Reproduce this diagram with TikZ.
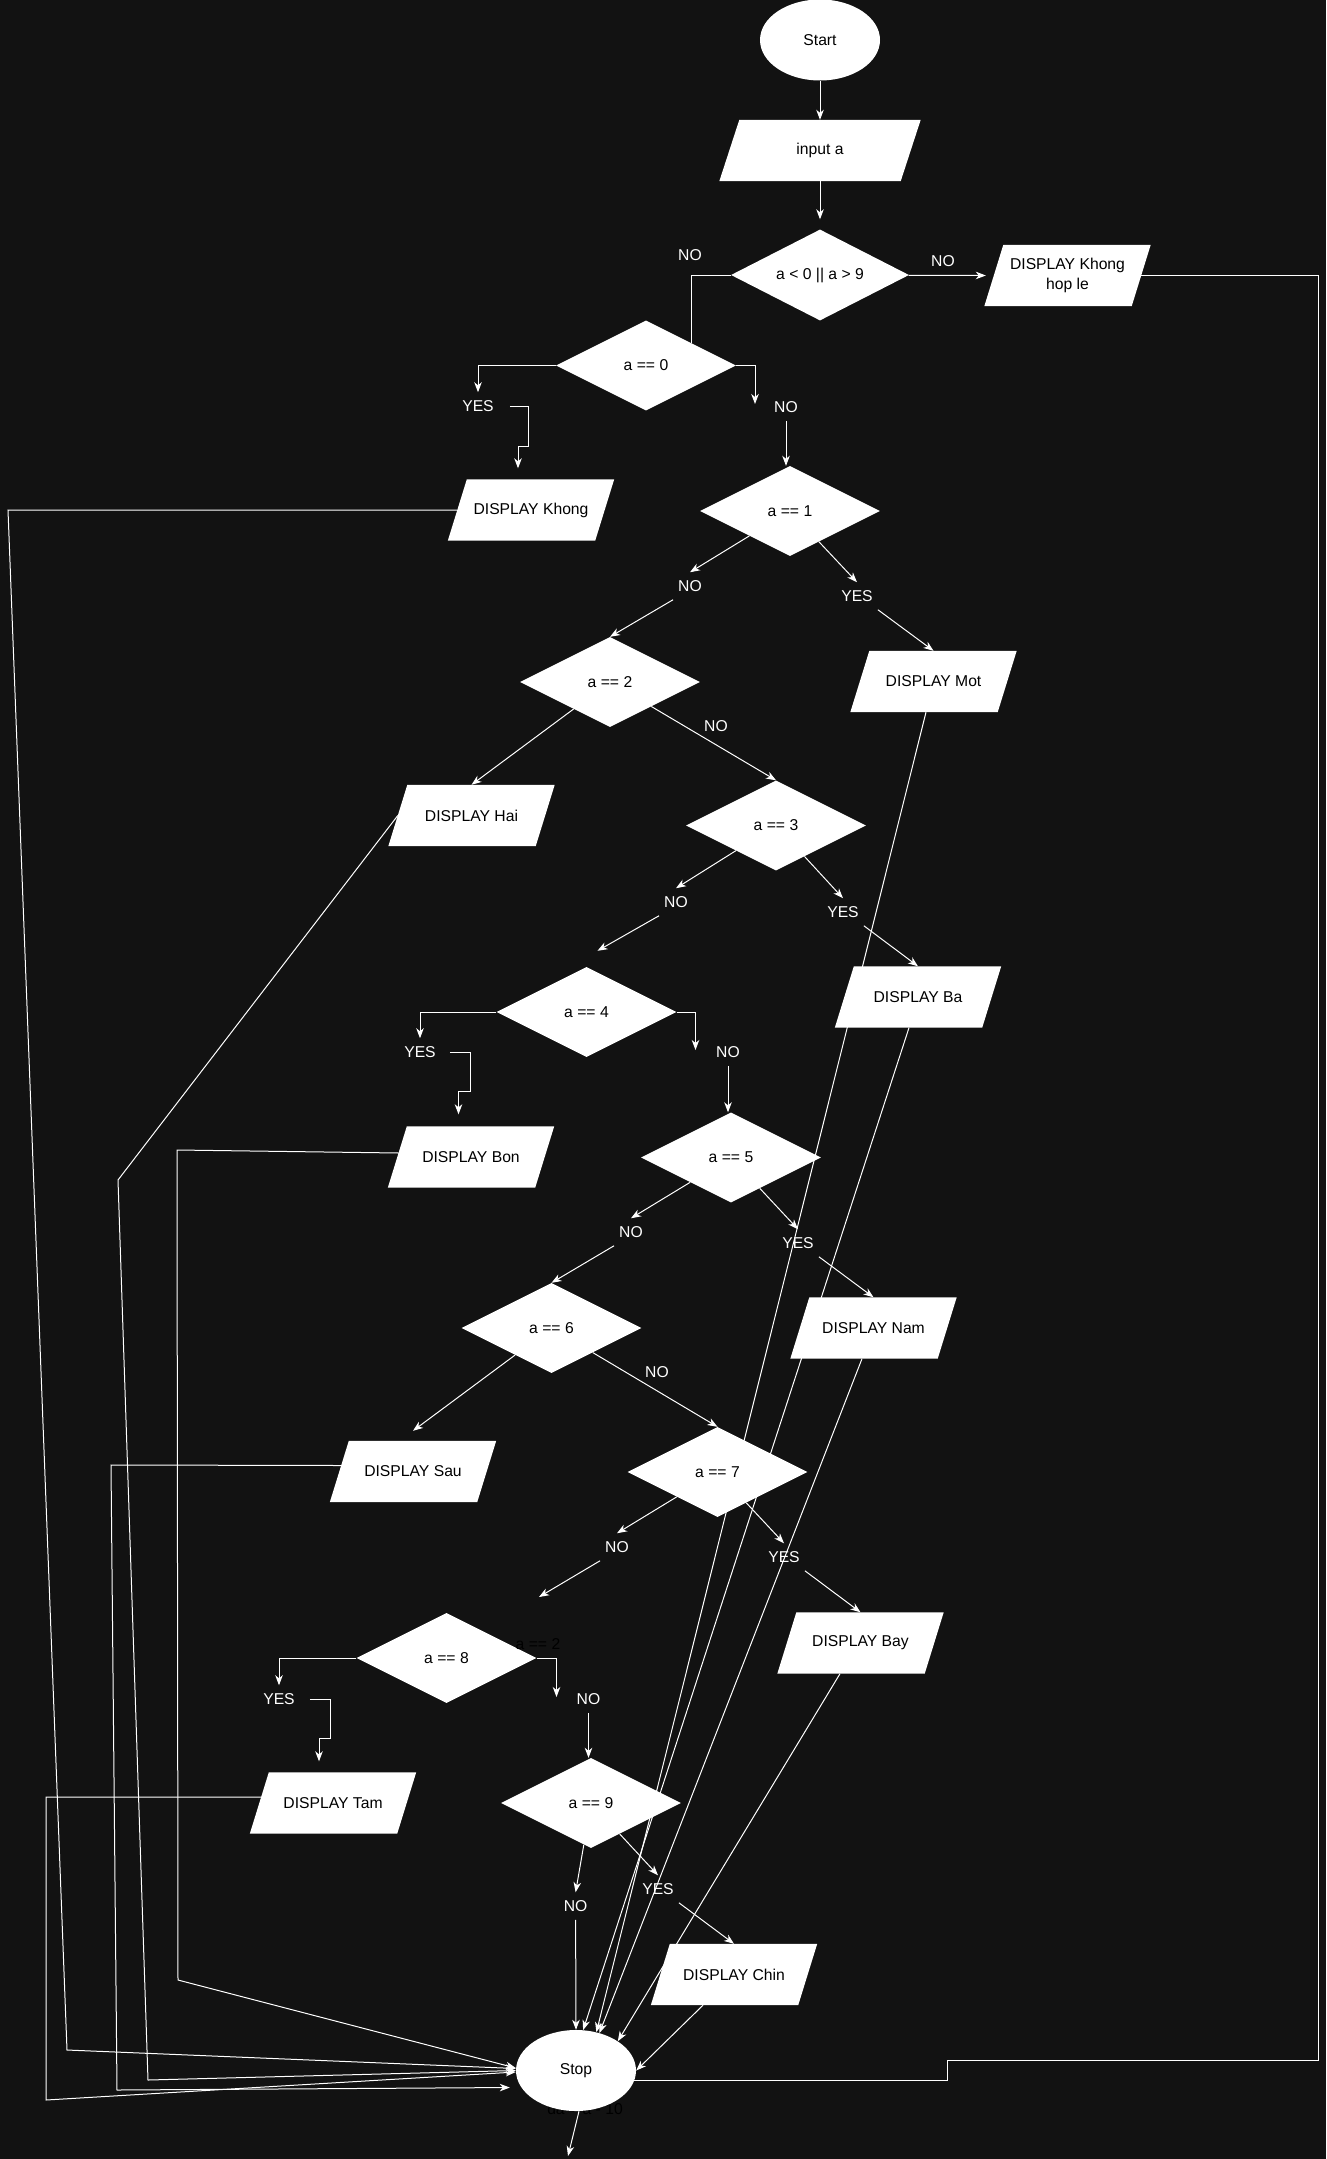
\documentclass[tikz,border=0pt]{standalone}
\usepackage{fontspec}
\setmainfont{Liberation Sans}
\usetikzlibrary{shapes.geometric,arrows.meta}
\definecolor{bgc}{HTML}{121212}
\pgfdeclarelayer{bg}\pgfdeclarelayer{edges}\pgfdeclarelayer{shapes}
\pgfsetlayers{bg,edges,shapes,main}
\begin{document}
\begin{tikzpicture}[x=1pt,y=-1pt,
  every node/.style={font=\fontsize{15.7}{20}\selectfont},
  term/.style={ellipse, fill=white, text=black, minimum width=120pt, minimum height=81pt, inner sep=0pt},
  dec/.style={diamond, fill=white, text=black, minimum width=180pt, minimum height=90pt, inner sep=0pt, aspect=2},
  io/.style={rectangle, text=black, minimum width=147pt, minimum height=61pt, inner sep=0pt, align=center},
  lbl/.style={text=white, inner xsep=5pt, inner ysep=8pt},
  hid/.style={text=black, inner sep=0pt},
  conn/.style={draw=white, line width=1pt},
  arr/.style={conn, -{Stealth[length=10pt,width=7.5pt,inset=3pt]}}
]
\useasboundingbox (0,0) rectangle (1326,2159);
\begin{pgfonlayer}{bg}
\fill[bgc] (0,0) rectangle (1326,2159);
\end{pgfonlayer}

% main nodes
\node[term] (start) at (820,40) {Start};
\node[io, minimum width=181pt] (inp) at (820,150.5) {input a};
\node[dec, minimum width=178pt, minimum height=91pt] (dq) at (820,275) {a < 0 || a > 9};
\node[io] (khl) at (1067.5,275.5) {DISPLAY Khong\\hop le};
\node[dec] (d0) at (646,365.5) {a == 0};
\node[io] (khong) at (531,510) {DISPLAY Khong};
\node[dec] (d1) at (790,511) {a == 1};
\node[io] (mot) at (933.5,681.5) {DISPLAY Mot};
\node[dec] (d2) at (610,682) {a == 2};
\node[io] (hai) at (471.5,815.5) {DISPLAY Hai};
\node[dec] (d3) at (776,825.5) {a == 3};
\node[io] (ba) at (918,997) {DISPLAY Ba};
\node[dec] (d4) at (586.5,1012) {a == 4};
\node[io] (bon) at (471,1157) {DISPLAY Bon};
\node[dec] (d5) at (731,1157.5) {a == 5};
\node[io] (nam) at (873.5,1328) {DISPLAY Nam};
\node[dec] (d6) at (551.5,1328) {a == 6};
\node[io] (sau) at (413,1471.5) {DISPLAY Sau};
\node[dec] (d7) at (717.5,1472) {a == 7};
\node[io] (bay) at (860.5,1643) {DISPLAY Bay};
\node[dec] (d8) at (446.5,1658) {a == 8};
\node[io] (tam) at (333,1803) {DISPLAY Tam};
\node[dec] (d9) at (591,1803) {a == 9};
\node[io] (chin) at (734,1974.5) {DISPLAY Chin};
\node[term] (stop) at (576,2070.5) {Stop};

% labels
\node[lbl] (nq1) at (943,261) {NO};
\node[lbl] (nq0) at (690,255) {NO};
\node[lbl] (yes0) at (478,406) {YES};
\node[lbl] (no0) at (786,407) {NO};
\node[lbl] (no1) at (690,586) {NO};
\node[lbl] (yes1) at (857,596) {YES};
\node[lbl] (no2) at (716,726) {NO};
\node[lbl] (no3) at (676,902) {NO};
\node[lbl] (yes3) at (843,912) {YES};
\node[lbl] (yes4) at (420,1052) {YES};
\node[lbl] (no4) at (728,1052) {NO};
\node[lbl] (no5) at (631,1232) {NO};
\node[lbl] (yes5) at (798,1243) {YES};
\node[lbl] (no6) at (657,1372) {NO};
\node[lbl] (no7) at (617,1547) {NO};
\node[lbl] (yes7) at (784,1557) {YES};
\node[lbl] (yes8) at (279,1699) {YES};
\node[lbl] (no8) at (588.5,1699) {NO};
\node[lbl] (no9) at (575.6,1906) {NO};
\node[lbl] (yes9) at (658,1889) {YES};
\node[hid] (hidA) at (538,1644) {a == 2};

% free ends and bends
\coordinate (t0) at (755,404);
\coordinate (t4) at (695.5,1050);
\coordinate (t8) at (556.5,1697);
\coordinate (t7) at (539,1597);
\coordinate (tout) at (568,2156);
\coordinate (r1) at (1318,2060);
\coordinate (r2) at (947,2080);
\coordinate (k1) at (8,510);   \coordinate (k2) at (67,2050);
\coordinate (ha) at (118,1180); \coordinate (hb) at (148,2080);
\coordinate (b1) at (177,1150); \coordinate (b2) at (178,1980);
\coordinate (s1) at (111,1465); \coordinate (s2) at (117,2090);
\coordinate (m1) at (46,1797);  \coordinate (m2) at (46,2100);
\coordinate (y0a) at (528,446); \coordinate (y4a) at (470,1091); \coordinate (y8a) at (330,1738);

\begin{pgfonlayer}{edges}
\draw[arr] (start) -- (inp);
\draw[arr] (inp) -- ([yshift=10pt]dq.north);
\draw[arr] (dq) -- ([xshift=-8pt]khl.west);
\draw[conn] (dq.west) -| (d0.north east);
\draw[conn] (khl.east) -| (r1) -| (r2) -- (stop.center |- r2);
\draw[arr] (d0.west) -| (yes0);
\draw[arr] ([xshift=11pt]yes0.east) -| (y0a) -| ([xshift=-13pt,yshift=11pt]khong.north);
\draw[arr] (d0.east) -| (t0);
\draw[arr] (no0.south) -- (no0.south |- d1.north);
\draw[arr] (d1) -- (no1.north);
\draw[arr] (no1.south west) -- (d2.north);
\draw[arr] (d1) -- (yes1.north);
\draw[arr] (yes1.south east) -- (mot.north);
\draw[arr] (d2) -- (hai.north);
\draw[arr] (d2) -- (d3.north);
\draw[arr] (d3) -- (no3.north);
\draw[arr] (no3.south west) -- ([xshift=11pt,yshift=16pt]d4.north);
\draw[arr] (d3) -- (yes3.north);
\draw[arr] (yes3.south east) -- (ba.north);
\draw[arr] (d4.west) -| (yes4);
\draw[arr] ([xshift=9pt]yes4.east) -| (y4a) -| ([xshift=-12.5pt,yshift=12pt]bon.north);
\draw[arr] (d4.east) -| (t4);
\draw[arr] (no4.south) -- (no4.south |- d5.north);
\draw[arr] (d5) -- (no5.north);
\draw[arr] (no5.south west) -- (d6.north);
\draw[arr] (d5) -- (yes5.north);
\draw[arr] (yes5.south east) -- (nam.north);
\draw[arr] (d6) -- ([yshift=10pt]sau.north);
\draw[arr] (d6) -- (d7.north);
\draw[arr] (d7) -- (no7.north);
\draw[arr] (no7.south west) -- (t7);
\draw[arr] (d7) -- (yes7.north);
\draw[arr] (yes7.south east) -- (bay.north);
\draw[arr] (d8.west) -| (yes8);
\draw[arr] ([xshift=10pt]yes8.east) -| (y8a) -| ([xshift=-14pt,yshift=11pt]tam.north);
\draw[arr] (d8.east) -| (t8);
\draw[arr] (no8.south) -- (no8.south |- d9.north);
\draw[arr] (d9) -- (no9.north);
\draw[arr] (no9.south) -- (stop.north);
\draw[arr] (d9) -- (yes9.north);
\draw[arr] (yes9.south east) -- (chin.north);
\draw[arr] ([xshift=-7.5pt]mot.south) -- (stop.62);
\draw[arr] ([xshift=-9pt]ba.south) -- (stop.80);
\draw[arr] ([xshift=-11.5pt]nam.south) -- (stop.58);
\draw[arr] ([xshift=-20.5pt]bay.south) -- (stop.35);
\draw[arr] ([xshift=-31pt]chin.south) -- (stop.east);
\draw[arr] (khong.west) -- (k1) -- (k2) -- ([yshift=2pt]stop.west);
\draw[arr] (hai.west) -- (ha) -- (hb) -- (stop.west);
\draw[arr] ([xshift=1.5pt,yshift=4pt]bon.west) -- (b1) -- (b2) -- ([yshift=2.5pt]stop.west);
\draw[arr] ([xshift=2pt,yshift=6pt]sau.west) -- (s1) -- (s2) -- ([xshift=-6pt,yshift=-17pt]stop.west);
\draw[arr] ([xshift=2pt,yshift=6pt]tam.west) -- (m1) -- (m2) -- ([yshift=-1.5pt]stop.west);
\draw[arr] ([xshift=3pt]stop.south) -- (tout);
\end{pgfonlayer}

\begin{pgfonlayer}{shapes}
\foreach \n/\s in {inp/10pt,khl/9.5pt,khong/9.5pt,mot/9.5pt,hai/9.5pt,ba/9.5pt,bon/9.5pt,nam/9.5pt,sau/9.5pt,bay/9.5pt,tam/9.5pt,chin/9.5pt}
  \fill[white] ([xshift=\s]\n.north west) -- ([xshift=\s]\n.north east) -- ([xshift=-\s]\n.south east) -- ([xshift=-\s]\n.south west) -- cycle;
\node[hid] (hidB) at (585,2109) {da = a - 10};
\end{pgfonlayer}
\end{tikzpicture}
\end{document}
